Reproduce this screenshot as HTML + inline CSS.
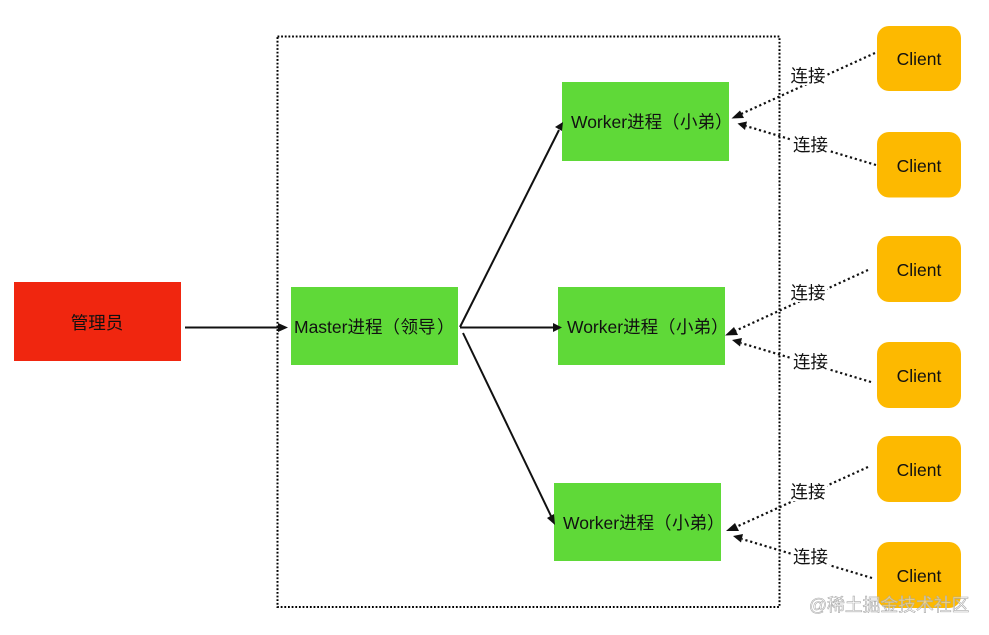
<!DOCTYPE html>
<html><head><meta charset="utf-8"><style>
html,body{margin:0;padding:0;background:#fff}
svg{display:block;filter:blur(.25px)}
text{font-family:"Liberation Sans","Noto Sans CJK SC",sans-serif;fill:#111;font-size:17.5px}
.c{text-anchor:middle}
.box{stroke:#000;stroke-width:2;stroke-dasharray:1.8 1.85;fill:none}
.d{stroke:#111;stroke-width:2.2;stroke-dasharray:2.2 2.8;fill:none}
.s{stroke:#111;stroke-width:2;fill:none}
</style></head><body>
<svg width="989" height="635" viewBox="0 0 989 635">
<rect x="277.500" y="36.500" width="502" height="570.500" class="box"/>
<rect x="14" y="282" width="167" height="79" fill="#f0260f"/>
<rect x="291" y="287" width="167" height="78" fill="#5fd938"/>
<rect x="562" y="82" width="167" height="79" fill="#5fd938"/>
<rect x="558" y="287" width="167" height="78" fill="#5fd938"/>
<rect x="554" y="483" width="167" height="78" fill="#5fd938"/>
<g fill="#fdb900">
<rect x="877" y="26" width="84" height="65" rx="12"/>
<rect x="877" y="132" width="84" height="65.500" rx="12"/>
<rect x="877" y="236" width="84" height="66" rx="12"/>
<rect x="877" y="342" width="84" height="66" rx="12"/>
<rect x="877" y="436" width="84" height="66" rx="12"/>
<rect x="877" y="542" width="84" height="66" rx="12"/>
</g>
<line x1="185" y1="327.500" x2="279" y2="327.500" class="s"/><polygon points="288,327.500 278,323 278,332" fill="#111"/>
<line x1="460" y1="327" x2="559" y2="130" class="s"/><polygon points="563,122 555,127 562,131" fill="#111"/>
<line x1="460" y1="327.500" x2="554" y2="327.500" class="s"/><polygon points="562,327.500 553,323 553,332" fill="#111"/>
<line x1="463" y1="333" x2="551" y2="516" class="s"/><polygon points="555,525 554,514 547,518" fill="#111"/>
<line x1="875" y1="53" x2="741" y2="114" class="d"/><polygon points="731.500,118.500 740,110.500 744,118" fill="#111"/>
<line x1="876" y1="165" x2="746" y2="126" class="d"/><polygon points="737.500,123.500 747,121.500 745,130" fill="#111"/>
<line x1="868" y1="270" x2="735" y2="331" class="d"/><polygon points="725,335.500 734,327 738,335" fill="#111"/>
<line x1="871" y1="382" x2="741" y2="343" class="d"/><polygon points="732,340 742,338 740,346.500" fill="#111"/>
<line x1="868" y1="467" x2="736" y2="527" class="d"/><polygon points="726,531 735,523 739,531" fill="#111"/>
<line x1="872" y1="578" x2="742" y2="539" class="d"/><polygon points="733,536 743,534 741,542.500" fill="#111"/>
<rect x="790" y="66" width="37" height="19" fill="#fff"/><text x="808" y="82" class="c">连接</text>
<rect x="792" y="135" width="37" height="18" fill="#fff"/><text x="810.500" y="151" class="c">连接</text>
<rect x="790" y="283" width="37" height="19" fill="#fff"/><text x="808" y="299" class="c">连接</text>
<rect x="792" y="352" width="37" height="18" fill="#fff"/><text x="810.500" y="368" class="c">连接</text>
<rect x="790" y="482" width="37" height="19" fill="#fff"/><text x="808" y="498" class="c">连接</text>
<rect x="792" y="547" width="37" height="19" fill="#fff"/><text x="810.500" y="563" class="c">连接</text>
<text x="97" y="329" class="c">管理员</text>
<text x="294" y="333">Master进程<tspan x="382.500">（</tspan><tspan x="400.500">领导</tspan><tspan x="437">）</tspan></text>
<text x="571" y="128">Worker进程<tspan x="662">（</tspan><tspan x="680">小弟</tspan><tspan x="715">）</tspan></text>
<text x="567" y="333">Worker进程<tspan x="658">（</tspan><tspan x="676">小弟</tspan><tspan x="711">）</tspan></text>
<text x="563" y="529">Worker进程<tspan x="654">（</tspan><tspan x="672">小弟</tspan><tspan x="707">）</tspan></text>
<text x="919" y="65" class="c">Client</text>
<text x="919" y="172" class="c">Client</text>
<text x="919" y="276" class="c">Client</text>
<text x="919" y="382" class="c">Client</text>
<text x="919" y="476" class="c">Client</text>
<text x="919" y="582" class="c">Client</text>
<text x="809" y="611" style="font-size:17.800px;fill:#fff;fill-opacity:.45;stroke:#aaa;stroke-width:.6">@稀土掘金技术社区</text>
</svg>
</body></html>
